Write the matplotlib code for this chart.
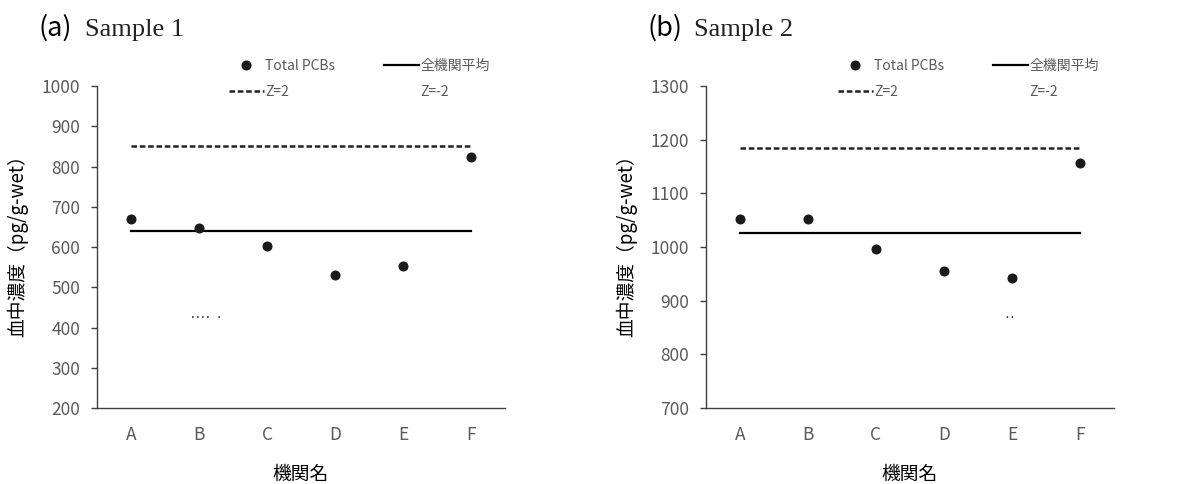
import matplotlib
matplotlib.use("Agg")
import matplotlib.pyplot as plt
from matplotlib.lines import Line2D

plt.rcParams['font.family'] = ['Noto Sans CJK JP', 'DejaVu Sans']
plt.rcParams['lines.scale_dashes'] = False

labs = ['A', 'B', 'C', 'D', 'E', 'F']

s1_vals = [671, 647, 603, 531, 554, 825]
s1_mean = 639
s1_zp2 = 851
s1_zm2 = 427

s2_vals = [1053, 1052, 997, 956, 942, 1156]
s2_mean = 1027
s2_zp2 = 1184
s2_zm2 = 869

s1_ticks = list(range(200, 1001, 100))
s2_ticks = list(range(700, 1301, 100))

GRAY = '#595959'
AX = '#404040'
DASH = (0, (4.0, 2.0))

fig = plt.figure(figsize=(11.79, 4.84), dpi=100)


def gap_first(gap, seq):
    # dash pattern that starts with a blank stretch of `gap` points
    pat = tuple(seq) + (1000,)
    total = sum(pat)
    return (total - gap, pat)


def panel(left, vals, mean, zp2, zm2, ticks, tag, name, dot_style):
    ax = fig.add_axes([left, 0.157, 0.346, 0.665])
    xs = list(range(len(labs)))
    n = len(xs)
    ax.plot(xs, vals, 'o', color='#1a1a1a', ms=6.2, zorder=4)
    ax.plot(xs, [mean] * n, '-', color='black', lw=1.6, zorder=3)
    ax.plot(xs, [zp2] * n, color='#222222', lw=1.8, linestyle=DASH, zorder=3)
    ax.plot(xs, [zm2] * n, color='#222222', lw=1.2, linestyle=dot_style, zorder=3)

    ax.set_xlim(-0.5, n - 0.5)
    ax.set_ylim(ticks[0], ticks[-1])
    ax.set_yticks(ticks)
    ax.set_xticks(xs)
    ax.set_xticklabels(labs)
    for s in ['top', 'right']:
        ax.spines[s].set_visible(False)
    for s in ['left', 'bottom']:
        ax.spines[s].set_color(AX)
        ax.spines[s].set_linewidth(1.0)
    ax.tick_params(axis='y', length=4, width=1.0, color=AX, pad=8,
                   labelsize=12.5, labelcolor=GRAY)
    ax.tick_params(axis='x', length=0, pad=13, labelsize=12.5, labelcolor=GRAY)
    ax.set_xlabel('機関名', fontsize=13.5, labelpad=14)
    ax.set_ylabel('血中濃度（pg/g-wet）', fontsize=13.5)
    ax.yaxis.set_label_coords(-0.168, 0.52)

    handles = [
        Line2D([], [], marker='o', ls='none', color='#1a1a1a', ms=6.2),
        Line2D([], [], color='#222222', lw=1.8, linestyle=DASH),
        Line2D([], [], color='black', lw=1.6),
        Line2D([], [], color='#222222', lw=1.2, linestyle=dot_style),
    ]
    names = ['Total PCBs', 'Z=2', '全機関平均', 'Z=-2']
    leg = ax.legend(handles, names, ncol=2, frameon=False, fontsize=10,
                    loc='upper left', bbox_to_anchor=(0.31, 1.103),
                    handlelength=2.5, handletextpad=0.12, columnspacing=3.5,
                    labelspacing=0.88, borderaxespad=0)
    for t in leg.get_texts():
        t.set_color(GRAY)

    fx = left - 0.050
    fig.text(fx, 0.926, '(' + tag + ')', fontsize=19.5, color='black',
             ha='left', va='baseline')
    fig.text(fx + 0.040, 0.926, name, fontsize=19, family='Liberation Serif',
             color='#222222', ha='left', va='baseline')
    return ax


# only a few dots of the Z=-2 line are visible in the source chart
dots_a = gap_first(44, (1.1, 2.5, 1.1, 2.5, 1.1, 2.5, 1.1, 7.0, 1.1))
dots_b = gap_first(192, (1.1, 2.5, 1.1))

panel(0.0823, s1_vals, s1_mean, s1_zp2, s1_zm2, s1_ticks, 'a', 'Sample 1', dots_a)
panel(0.5988, s2_vals, s2_mean, s2_zp2, s2_zm2, s2_ticks, 'b', 'Sample 2', dots_b)

fig.savefig('out.png', dpi=100)
